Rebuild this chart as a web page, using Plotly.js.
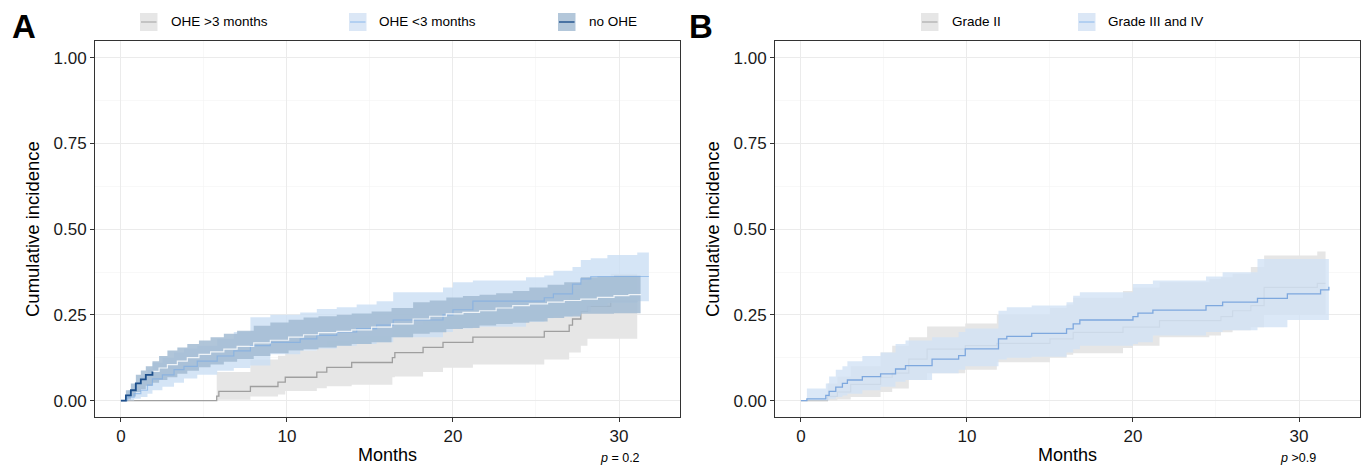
<!DOCTYPE html>
<html>
<head>
<meta charset="utf-8">
<script src="https://cdn.plot.ly/plotly-3.0.1.min.js"></script>
<style>
  html, body { margin: 0; padding: 0; background: #fff; }
  #chart { width: 1362px; height: 466px; }
</style>
</head>
<body>
<div id="chart"></div>
<script>
// ---------------- Data ----------------
// Panel A: OHE >3 months
const timeOheLate = [0, 5.77, 5.9, 7.8, 9.46, 9.9, 11.8, 12.4, 13.9, 16.35, 16.5, 18.2, 19.4, 21.2, 25.5, 27.0, 27.2, 27.7, 28.1, 29.5, 31.1];
const estOheLate  = [0, 0.013, 0.027, 0.041, 0.054, 0.068, 0.083, 0.097, 0.111, 0.125, 0.14, 0.155, 0.17, 0.185, 0.202, 0.22, 0.238, 0.26, 0.275, 0.29, 0.29];
const lowOheLate  = [0, 0, 0.002, 0.012, 0.018, 0.028, 0.036, 0.042, 0.046, 0.068, 0.07, 0.083, 0.096, 0.105, 0.12, 0.14, 0.14, 0.16, 0.18, 0.18, 0.18];
const upOheLate   = [0, 0.083, 0.083, 0.12, 0.131, 0.146, 0.16, 0.175, 0.19, 0.205, 0.22, 0.235, 0.25, 0.265, 0.285, 0.305, 0.325, 0.345, 0.36, 0.37, 0.37];

// Panel A: OHE <3 months
const timeOheEarly = [0, 0.4, 0.8, 1.2, 1.6, 1.9, 2.5, 3.2, 3.8, 4.6, 5.8, 6.8, 7.8, 9.0, 10.8, 11.8, 13.0, 14.2, 15.4, 16.4, 19.4, 20.0, 21.2, 24.4, 25.5, 26.05, 27.2, 27.7, 28.3, 29.3, 31.1, 31.8];
const estOheEarly  = [0, 0.01, 0.02, 0.03, 0.045, 0.063, 0.075, 0.09, 0.1, 0.115, 0.13, 0.145, 0.16, 0.17, 0.18, 0.19, 0.2, 0.21, 0.22, 0.235, 0.25, 0.265, 0.29, 0.29, 0.3, 0.311, 0.34, 0.355, 0.362, 0.362, 0.362, 0.362];
const lowOheEarly  = [0, 0, 0.005, 0.01, 0.02, 0.03, 0.04, 0.052, 0.064, 0.075, 0.087, 0.095, 0.102, 0.135, 0.146, 0.152, 0.16, 0.165, 0.17, 0.185, 0.2, 0.21, 0.215, 0.23, 0.24, 0.245, 0.25, 0.26, 0.275, 0.285, 0.29, 0.29];
const upOheEarly   = [0, 0.03, 0.05, 0.07, 0.09, 0.11, 0.125, 0.14, 0.152, 0.16, 0.18, 0.2, 0.243, 0.25, 0.257, 0.267, 0.272, 0.28, 0.29, 0.316, 0.33, 0.345, 0.35, 0.36, 0.365, 0.379, 0.39, 0.41, 0.415, 0.425, 0.432, 0.432];

// Panel A: no OHE
const timeNoOhe = [0, 0.3, 0.6, 0.9, 1.2, 1.5, 1.9, 2.3, 2.8, 3.4, 4.0, 4.7, 5.4, 6.2, 7.0, 8.0, 9.0, 10.1, 11.0, 11.9, 13.0, 13.9, 15.1, 16.3, 17.6, 18.6, 19.6, 20.6, 21.6, 22.6, 23.6, 24.6, 25.7, 26.7, 27.7, 28.7, 29.7, 30.6, 31.3];
const estNoOhe  = [0, 0.015, 0.03, 0.05, 0.062, 0.075, 0.085, 0.095, 0.105, 0.115, 0.125, 0.135, 0.142, 0.15, 0.158, 0.168, 0.176, 0.185, 0.192, 0.198, 0.202, 0.206, 0.214, 0.224, 0.238, 0.246, 0.253, 0.257, 0.262, 0.27, 0.277, 0.282, 0.287, 0.292, 0.296, 0.301, 0.306, 0.309, 0.311];
const lowNoOhe  = [0, 0.003, 0.012, 0.025, 0.033, 0.043, 0.052, 0.06, 0.068, 0.078, 0.087, 0.097, 0.105, 0.113, 0.121, 0.13, 0.138, 0.146, 0.15, 0.155, 0.16, 0.165, 0.17, 0.185, 0.195, 0.199, 0.209, 0.212, 0.219, 0.223, 0.227, 0.231, 0.241, 0.245, 0.253, 0.253, 0.255, 0.255, 0.255];
const upNoOhe   = [0, 0.03, 0.05, 0.075, 0.088, 0.1, 0.115, 0.13, 0.146, 0.155, 0.165, 0.175, 0.185, 0.195, 0.204, 0.218, 0.228, 0.236, 0.242, 0.246, 0.25, 0.254, 0.26, 0.27, 0.287, 0.292, 0.301, 0.305, 0.309, 0.313, 0.32, 0.33, 0.338, 0.345, 0.36, 0.362, 0.364, 0.364, 0.364];

// Panel B: Grade II
const timeGrade2 = [0, 1.6, 2.2, 3.0, 4.8, 5.5, 6.5, 7.6, 9.9, 11.8, 15.0, 16.0, 16.4, 19.4, 20.0, 21.6, 24.6, 25.3, 26.0, 27.1, 27.9, 31.1, 31.6];
const estGrade2  = [0, 0.012, 0.025, 0.047, 0.068, 0.08, 0.121, 0.15, 0.16, 0.167, 0.18, 0.18, 0.199, 0.214, 0.214, 0.233, 0.233, 0.245, 0.262, 0.277, 0.33, 0.342, 0.342];
const lowGrade2  = [0, 0, 0.003, 0.01, 0.025, 0.035, 0.06, 0.08, 0.09, 0.112, 0.125, 0.134, 0.138, 0.153, 0.16, 0.185, 0.19, 0.199, 0.205, 0.214, 0.25, 0.25, 0.25];
const upGrade2   = [0, 0.05, 0.07, 0.1, 0.14, 0.16, 0.185, 0.216, 0.225, 0.25, 0.27, 0.28, 0.3, 0.32, 0.33, 0.345, 0.355, 0.36, 0.37, 0.39, 0.423, 0.435, 0.435];

// Panel B: Grade III and IV
const timeGrade34 = [0, 0.36, 1.5, 1.7, 2.1, 2.5, 2.8, 3.7, 4.8, 5.7, 6.3, 7.9, 9.5, 9.9, 11.9, 12.4, 13.9, 16.0, 16.4, 16.8, 20.0, 20.3, 21.2, 24.4, 25.4, 27.5, 29.3, 31.3, 31.8];
const estGrade34  = [0, 0.005, 0.015, 0.027, 0.039, 0.05, 0.06, 0.07, 0.078, 0.092, 0.102, 0.121, 0.131, 0.151, 0.18, 0.187, 0.196, 0.209, 0.224, 0.235, 0.245, 0.255, 0.264, 0.277, 0.287, 0.298, 0.311, 0.323, 0.332];
const lowGrade34  = [0, 0, 0, 0.005, 0.01, 0.015, 0.02, 0.03, 0.04, 0.055, 0.06, 0.08, 0.09, 0.1, 0.12, 0.125, 0.128, 0.14, 0.15, 0.16, 0.165, 0.17, 0.19, 0.2, 0.205, 0.214, 0.235, 0.235, 0.235];
const upGrade34   = [0, 0.035, 0.05, 0.07, 0.09, 0.1, 0.115, 0.13, 0.14, 0.165, 0.175, 0.185, 0.2, 0.21, 0.262, 0.272, 0.277, 0.287, 0.306, 0.316, 0.34, 0.34, 0.35, 0.362, 0.374, 0.413, 0.413, 0.413, 0.413];

// Tick labels
const xTickVals = [0, 10, 20, 30];
const xTickText = ['0', '10', '20', '30'];
const yTickVals = [0, 0.25, 0.5, 0.75, 1.0];
const yTickText = ['0.00', '0.25', '0.50', '0.75', '1.00'];

// Legend labels
const legendA = ['OHE >3 months', 'OHE <3 months', 'no OHE'];
const legendB = ['Grade II', 'Grade III and IV'];
const pValueA = '<i>p</i> = 0.2';
const pValueB = '<i>p</i> >0.9';

// ---------------- Styles ----------------
const FONT = 'Liberation Sans, Arial, Helvetica, sans-serif';
const W = 1362, H = 466;
const px = v => v / W;
const py = v => 1 - v / H;

const greyFill = '#e6e6e6';
const lightBlueFill = 'rgba(202,222,244,0.8)';
const steelFill = 'rgba(162,187,210,0.85)';
const greyLineA = '#9f9f9f';
const lightBlueLine = 'rgba(120,170,228,0.6)';
const darkBlueLine = '#1d4f8b';
const bandBlueB = 'rgba(210,226,245,0.8)';
const blueLineB = '#7ea8de';
const greyLineB = '#b4b4b4';

function band(x, lo, up, fill, xa, ya) {
  return [
    {x: x, y: lo, xaxis: xa, yaxis: ya, type: 'scatter', mode: 'lines',
     line: {shape: 'hv', width: 0, color: 'rgba(0,0,0,0)'}, hoverinfo: 'skip', showlegend: false},
    {x: x, y: up, xaxis: xa, yaxis: ya, type: 'scatter', mode: 'lines', fill: 'tonexty',
     fillcolor: fill, line: {shape: 'hv', width: 0, color: 'rgba(0,0,0,0)'}, hoverinfo: 'skip', showlegend: false}
  ];
}
function stepLine(x, y, color, width, xa, ya) {
  return {x: x, y: y, xaxis: xa, yaxis: ya, type: 'scatter', mode: 'lines',
          line: {shape: 'hv', width: width, color: color}, showlegend: false};
}

// white overlay of no-OHE estimate beyond the first months (as in the reference)
const startIdx = timeNoOhe.findIndex(t => t >= 1.9);
const timeNoOheLater = timeNoOhe.slice(startIdx);
const estNoOheLater = estNoOhe.slice(startIdx);
const timeNoOheFirst = timeNoOhe.slice(0, startIdx + 1);
const estNoOheFirst = estNoOhe.slice(0, startIdx + 1);

const traces = [
  ...band(timeOheLate, lowOheLate, upOheLate, greyFill, 'x', 'y'),
  stepLine(timeOheLate, estOheLate, greyLineA, 1.3, 'x', 'y'),
  ...band(timeOheEarly, lowOheEarly, upOheEarly, lightBlueFill, 'x', 'y'),
  ...band(timeNoOhe, lowNoOhe, upNoOhe, steelFill, 'x', 'y'),
  stepLine(timeOheEarly, estOheEarly, lightBlueLine, 1.2, 'x', 'y'),
  stepLine(timeNoOheLater, estNoOheLater, 'rgba(255,255,255,0.8)', 1.2, 'x', 'y'),
  stepLine(timeNoOheFirst, estNoOheFirst, darkBlueLine, 1.8, 'x', 'y'),

  ...band(timeGrade2, lowGrade2, upGrade2, greyFill, 'x2', 'y2'),
  stepLine(timeGrade2, estGrade2, greyLineB, 1.2, 'x2', 'y2'),
  ...band(timeGrade34, lowGrade34, upGrade34, bandBlueB, 'x2', 'y2'),
  stepLine(timeGrade34, estGrade34, blueLineB, 1.3, 'x2', 'y2')
];

const xRange = [-1.56, 33.65];
const yRange = [-0.048, 1.05];
const yDomain = [py(417), py(40.7)];

function xAxis(domain, anchor) {
  return {
    domain: domain, anchor: anchor, range: xRange,
    tickvals: xTickVals, ticktext: xTickText,
    tickfont: {family: FONT, size: 17, color: '#1a1a1a'},
    ticks: 'outside', ticklen: 4, tickcolor: '#333', tickwidth: 1,
    showline: true, mirror: true, linecolor: '#333', linewidth: 1,
    showgrid: true, gridcolor: '#ebebeb', gridwidth: 1, zeroline: false,
    minor: {dtick: 5, tick0: 0, showgrid: true, gridcolor: '#f3f3f3', gridwidth: 0.6, ticks: ''},
    fixedrange: true
  };
}
function yAxis(domain, anchor) {
  return {
    domain: domain, anchor: anchor, range: yRange,
    tickvals: yTickVals, ticktext: yTickText,
    tickfont: {family: FONT, size: 17, color: '#1a1a1a'},
    ticks: 'outside', ticklen: 4, tickcolor: '#333', tickwidth: 1,
    showline: true, mirror: true, linecolor: '#333', linewidth: 1,
    showgrid: true, gridcolor: '#ebebeb', gridwidth: 1, zeroline: false,
    minor: {dtick: 0.125, tick0: 0, showgrid: true, gridcolor: '#f3f3f3', gridwidth: 0.6, ticks: ''},
    fixedrange: true
  };
}

const annotations = [];
const shapes = [];
function txt(text, x, y, size, opts) {
  annotations.push(Object.assign({
    text: text, x: px(x), y: py(y), xref: 'paper', yref: 'paper', showarrow: false,
    font: {family: FONT, size: size, color: '#000'}, xanchor: 'center', yanchor: 'middle'
  }, opts || {}));
}
function key(x0, fill, lineColor, lineWidth) {
  shapes.push({type: 'rect', xref: 'paper', yref: 'paper', x0: px(x0), x1: px(x0 + 17.5), y0: py(31), y1: py(13),
               fillcolor: fill, line: {width: 0}});
  shapes.push({type: 'line', xref: 'paper', yref: 'paper', x0: px(x0 + 1), x1: px(x0 + 16.5), y0: py(22), y1: py(22),
               line: {color: lineColor, width: lineWidth}});
}

// Panel letters
txt('<b>A</b>', 24, 26, 33);
txt('<b>B</b>', 701, 26, 33);
// Legends
key(140, '#e6e6e6', '#a0a0a0', 1);
key(349, '#dbe7f6', '#8ab8ec', 1);
key(558, '#b3c7da', darkBlueLine, 1.4);
txt(legendA[0], 169, 22, 13.5, {xanchor: 'left'});
txt(legendA[1], 377, 22, 13.5, {xanchor: 'left'});
txt(legendA[2], 587, 22, 13.5, {xanchor: 'left'});
key(921, '#e6e6e6', '#a0a0a0', 1);
key(1078, '#dbe7f6', '#8ab8ec', 1);
txt(legendB[0], 950, 22, 13.5, {xanchor: 'left'});
txt(legendB[1], 1106, 22, 13.5, {xanchor: 'left'});
// Axis titles
txt('Cumulative incidence', 32, 229, 18.5, {textangle: -90});
txt('Cumulative incidence', 712, 229, 18.5, {textangle: -90});
txt('Months', 387, 455, 18);
txt('Months', 1067, 455, 18);
// p-values
txt(pValueA, 620, 458, 12.5);
txt(pValueB, 1298, 458, 12.5);

const layout = {
  width: W, height: H,
  margin: {l: 0, r: 0, t: 0, b: 0},
  paper_bgcolor: '#fff', plot_bgcolor: '#fff',
  showlegend: false,
  font: {family: FONT},
  xaxis: xAxis([px(95), px(679.6)], 'y'),
  yaxis: yAxis(yDomain, 'x'),
  xaxis2: xAxis([px(775), px(1359.6)], 'y2'),
  yaxis2: yAxis(yDomain, 'x2'),
  annotations: annotations,
  shapes: shapes
};

Plotly.newPlot('chart', traces, layout, {staticPlot: true, displayModeBar: false});
</script>
</body>
</html>
